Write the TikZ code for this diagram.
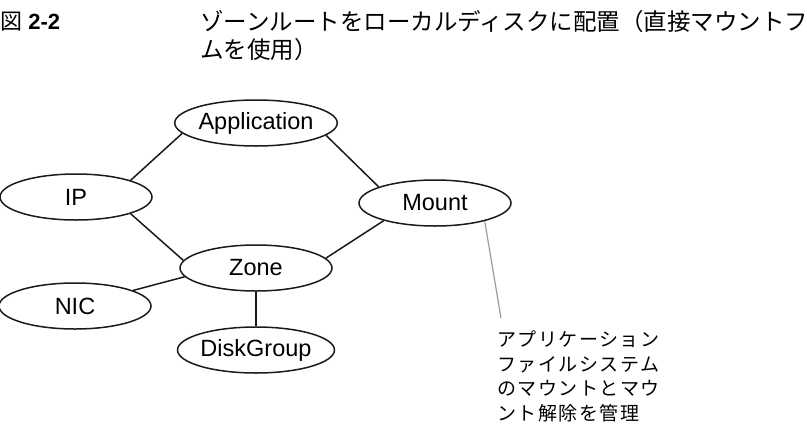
\documentclass[tikz,border=0pt]{standalone}
\usepackage{fontspec}
\setmainfont{Liberation Sans}
\newfontfamily\jpfont{Noto Sans CJK JP}
\newfontfamily\jpnote[LetterSpace=8]{Noto Sans CJK JP}
\usetikzlibrary{shapes.geometric}
\definecolor{zrink}{HTML}{1A1A1A}
\definecolor{zrlead}{HTML}{9C9C9C}
\tikzset{
  res/.style={ellipse, draw=zrink, line width=1.5pt, minimum width=152pt, minimum height=46pt, inner sep=0pt, font=\fontsize{23.5}{26}\selectfont},
  dep/.style={draw=zrink, line width=1.5pt},
  lead/.style={draw=zrlead, line width=1.2pt},
}

\begin{document}
\begin{tikzpicture}[x=1pt,y=-1pt]
  \useasboundingbox (0,0) rectangle (807,432);
  % caption
  \node[anchor=west, inner sep=0pt, font=\fontsize{22}{24}\selectfont] (fig) at (0,22) {{\jpfont 図} \textbf{2-2}};
  \node[anchor=west, inner sep=0pt, font=\jpfont\fontsize{23.5}{26}\selectfont] (ttl1) at (200,22) {ゾーンルートをローカルディスクに配置（直接マウントフ};
  \node[anchor=west, inner sep=0pt, font=\jpfont\fontsize{23.5}{26}\selectfont] (ttl2) at (200,50) {ムを使用）};
  % resources
  \node[res] (app)  at (256,123) {Application};
  \node[res] (ip)   at (76,197)  {IP};
  \node[res] (mnt)  at (435,203) {Mount};
  \node[res] (zone) at (256,268) {Zone};
  \node[res] (nic)  at (75,306)  {NIC};
  \node[res] (dg)   at (256,350) {DiskGroup};
  % dependencies
  \draw[dep] (app.188) -- (ip.17);
  \draw[dep] (app.350) -- (mnt.164);
  \draw[dep] (ip.343) -- (zone.174);
  \draw[dep] (mnt.199) -- (zone.8);
  \draw[dep] (zone.187) -- (nic.15);
  \draw[dep] (zone.south) -- (dg.north);
  % note on Mount
  \node[anchor=north west, inner sep=0pt, align=left, font=\jpnote\fontsize{19}{24.5}\selectfont] (note) at (497,331)
    {アプリケーション\\ファイルシステム\\のマウントとマウ\\ント解除を管理};
  \coordinate (tip) at (501,318);
  \draw[lead] (mnt.340) -- (tip);
\end{tikzpicture}
\end{document}
